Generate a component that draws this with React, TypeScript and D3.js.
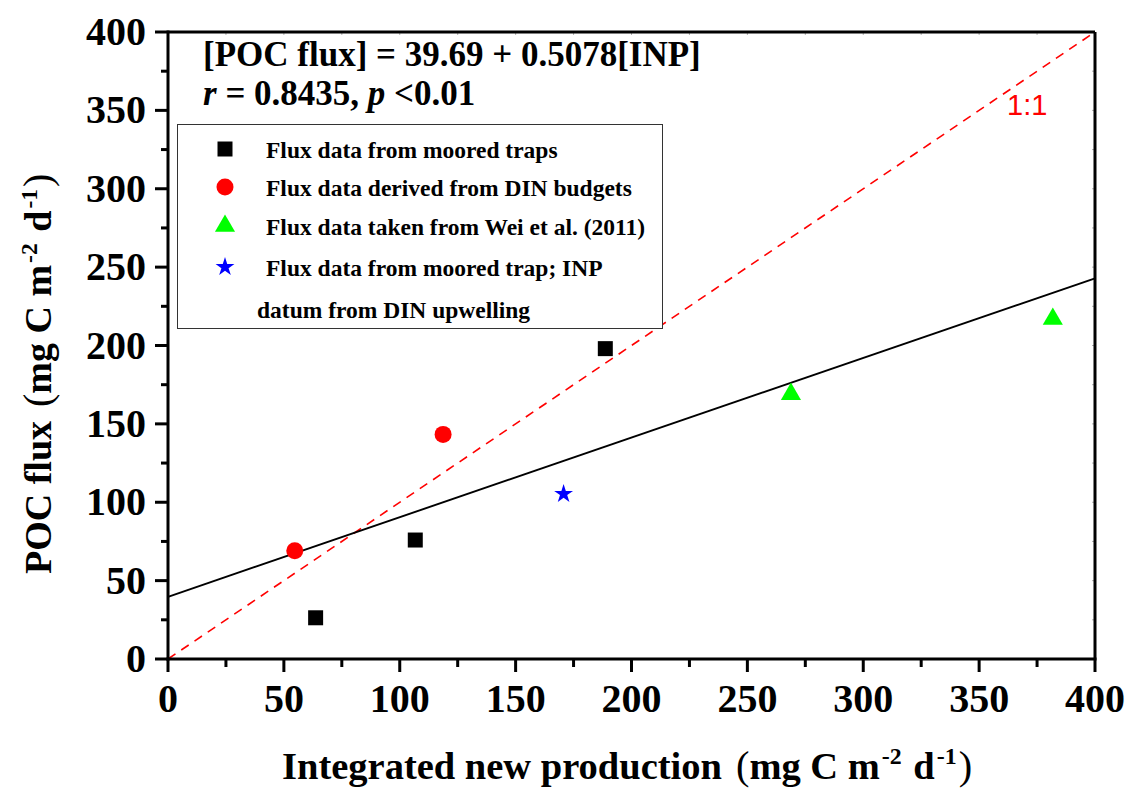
import React from "react";
import * as d3 from "d3";

const mooredX = [63.7, 106.7, 188.7];
const mooredY = [26.3, 75.9, 198.0];
const dinX = [54.7, 118.7];
const dinY = [69.1, 143.3];
const weiX = [268.8, 381.8];
const weiY = [169.0, 216.9];
const starX = [170.7];
const starY = [105.3];
const xTicks = [0, 50, 100, 150, 200, 250, 300, 350, 400];
const yTicks = [0, 50, 100, 150, 200, 250, 300, 350, 400];
const minorTicks = [25, 75, 125, 175, 225, 275, 325, 375];
const intercept = 39.69;
const slope = 0.5078;
const legendLabels = [
  "Flux data from moored traps",
  "Flux data derived from DIN budgets",
  "Flux data taken from Wei et al. (2011)",
  "Flux data from moored trap; INP",
];

const W = 1129, H = 788;
const L = 168, R = 1095, T = 32, B = 659;
const serif = "'Liberation Serif', 'Times New Roman', serif";

export default function App() {
  const x = d3.scaleLinear().domain([0, 400]).range([L, R]);
  const y = d3.scaleLinear().domain([0, 400]).range([B, T]);
  const sq = d3.symbol().type(d3.symbolSquare).size(225)()!;
  const circ = d3.symbol().type(d3.symbolCircle).size(227)()!;
  const tri = d3.symbol().type(d3.symbolTriangle).size(175)()!;
  const star = d3.symbol().type(d3.symbolStar).size(110)()!;
  const line = d3.line<number>().x((v) => x(v)).y((v) => y(intercept + slope * v));
  const oneToOne = d3.line<number>().x((v) => x(v)).y((v) => y(v));
  const legendRows = [149, 187, 226, 267];
  const legendSyms = [
    { d: sq, fill: "#000" },
    { d: circ, fill: "#ff0000" },
    { d: tri, fill: "#00ff00" },
    { d: star, fill: "#0000ff" },
  ];
  const unit = (fs: number) => (
    <>
      <tspan dx={14} fontWeight="normal" fontSize={fs * 1.05}>(</tspan>
      <tspan>mg C m</tspan>
      <tspan dx={2} fontSize={fs * 0.62} dy={-fs * 0.38}>-2</tspan>
      <tspan dx={2} dy={fs * 0.38}> d</tspan>
      <tspan dx={2} fontSize={fs * 0.62} dy={-fs * 0.38}>-1</tspan>
      <tspan dx={2} dy={fs * 0.38} fontWeight="normal" fontSize={fs * 1.05}>)</tspan>
    </>
  );
  return (
    <div style={{ position: "absolute", left: 0, top: 0 }}>
      <svg width={W} height={H} style={{ display: "block", background: "#fff" }}>
        {/* 1:1 line */}
        <path d={oneToOne([0, 400])!} stroke="#ff0000" strokeWidth={1.6} strokeDasharray="9,7" fill="none" />
        {/* regression */}
        <path d={line([0, 400])!} stroke="#000" strokeWidth={1.9} fill="none" />
        <text x={1007} y={115} fontFamily="'Liberation Sans', Arial, sans-serif" fontSize={29} fill="#ff0000">1:1</text>

        {/* frame */}
        <line x1={L} x2={R} y1={T} y2={T} stroke="#000" strokeWidth={3} />
        <line x1={R} x2={R} y1={T} y2={B} stroke="#000" strokeWidth={3} />
        <line x1={L} x2={L} y1={T - 1.5} y2={B + 1.5} stroke="#000" strokeWidth={3} />
        <line x1={L - 1.5} x2={R + 1.5} y1={B} y2={B} stroke="#000" strokeWidth={3} />

        {/* y ticks */}
        {yTicks.map((t) => (
          <g key={"yt" + t}>
            <line x1={L - 13} x2={L} y1={y(t)} y2={y(t)} stroke="#000" strokeWidth={3} />
            <text x={146} y={y(t) + 13} textAnchor="end" fontFamily={serif} fontWeight="bold" fontSize={40}>{t}</text>
          </g>
        ))}
        {minorTicks.map((t) => (
          <line key={"ym" + t} x1={L - 7} x2={L} y1={y(t)} y2={y(t)} stroke="#000" strokeWidth={3} />
        ))}
        {/* x ticks */}
        {xTicks.map((t) => (
          <g key={"xt" + t}>
            <line x1={x(t)} x2={x(t)} y1={B} y2={B + 13} stroke="#000" strokeWidth={3} />
            <text x={x(t)} y={712} textAnchor="middle" fontFamily={serif} fontWeight="bold" fontSize={40}>{t}</text>
          </g>
        ))}
        {minorTicks.map((t) => (
          <line key={"xm" + t} x1={x(t)} x2={x(t)} y1={B} y2={B + 8} stroke="#000" strokeWidth={3} />
        ))}
        {/* faint inner ticks on top/right */}
        {minorTicks.concat(xTicks.slice(1, -1)).map((t) => (
          <g key={"tr" + t}>
            <line x1={x(t)} x2={x(t)} y1={T} y2={T + 3} stroke="#000" strokeWidth={1} opacity={0.3} />
            <line x1={R - 3} x2={R} y1={y(t)} y2={y(t)} stroke="#000" strokeWidth={1} opacity={0.3} />
          </g>
        ))}

        {/* equation */}
        <text x={203} y={66} fontFamily={serif} fontWeight="bold" fontSize={35}>[POC flux] = 39.69 + 0.5078[INP]</text>
        <text x={203} y={105} fontFamily={serif} fontWeight="bold" fontSize={35}>
          <tspan fontStyle="italic">r</tspan> = 0.8435, <tspan fontStyle="italic">p</tspan> &lt;0.01
        </text>

        {/* legend */}
        <rect x={177.5} y={124.5} width={485} height={204} fill="#fff" stroke="#333" strokeWidth={1} />
        {legendRows.map((ry, i) => (
          <g key={"lg" + i}>
            <path d={legendSyms[i].d} transform={`translate(225,${ry})`} fill={legendSyms[i].fill} />
            <text x={266} y={ry + 9} fontFamily={serif} fontWeight="bold" fontSize={23.5}>{legendLabels[i]}</text>
          </g>
        ))}
        <text x={257} y={318} fontFamily={serif} fontWeight="bold" fontSize={23.5}>datum from DIN upwelling</text>

        {/* data */}
        {mooredX.map((v, i) => (
          <path key={"m" + i} d={sq} transform={`translate(${x(v)},${y(mooredY[i])})`} fill="#000" />
        ))}
        {dinX.map((v, i) => (
          <path key={"d" + i} d={circ} transform={`translate(${x(v)},${y(dinY[i])})`} fill="#ff0000" />
        ))}
        {weiX.map((v, i) => (
          <path key={"w" + i} d={tri} transform={`translate(${x(v)},${y(weiY[i])})`} fill="#00ff00" />
        ))}
        {starX.map((v, i) => (
          <path key={"s" + i} d={star} transform={`translate(${x(v)},${y(starY[i])})`} fill="#0000ff" />
        ))}

        {/* axis titles */}
        <text x={282} y={779} fontFamily={serif} fontWeight="bold" fontSize={38.5}>
          Integrated new production{unit(38.5)}
        </text>
        <text transform="translate(51,574) rotate(-90)" fontFamily={serif} fontWeight="bold" fontSize={38}>
          POC flux{unit(38)}
        </text>
      </svg>
    </div>
  );
}
